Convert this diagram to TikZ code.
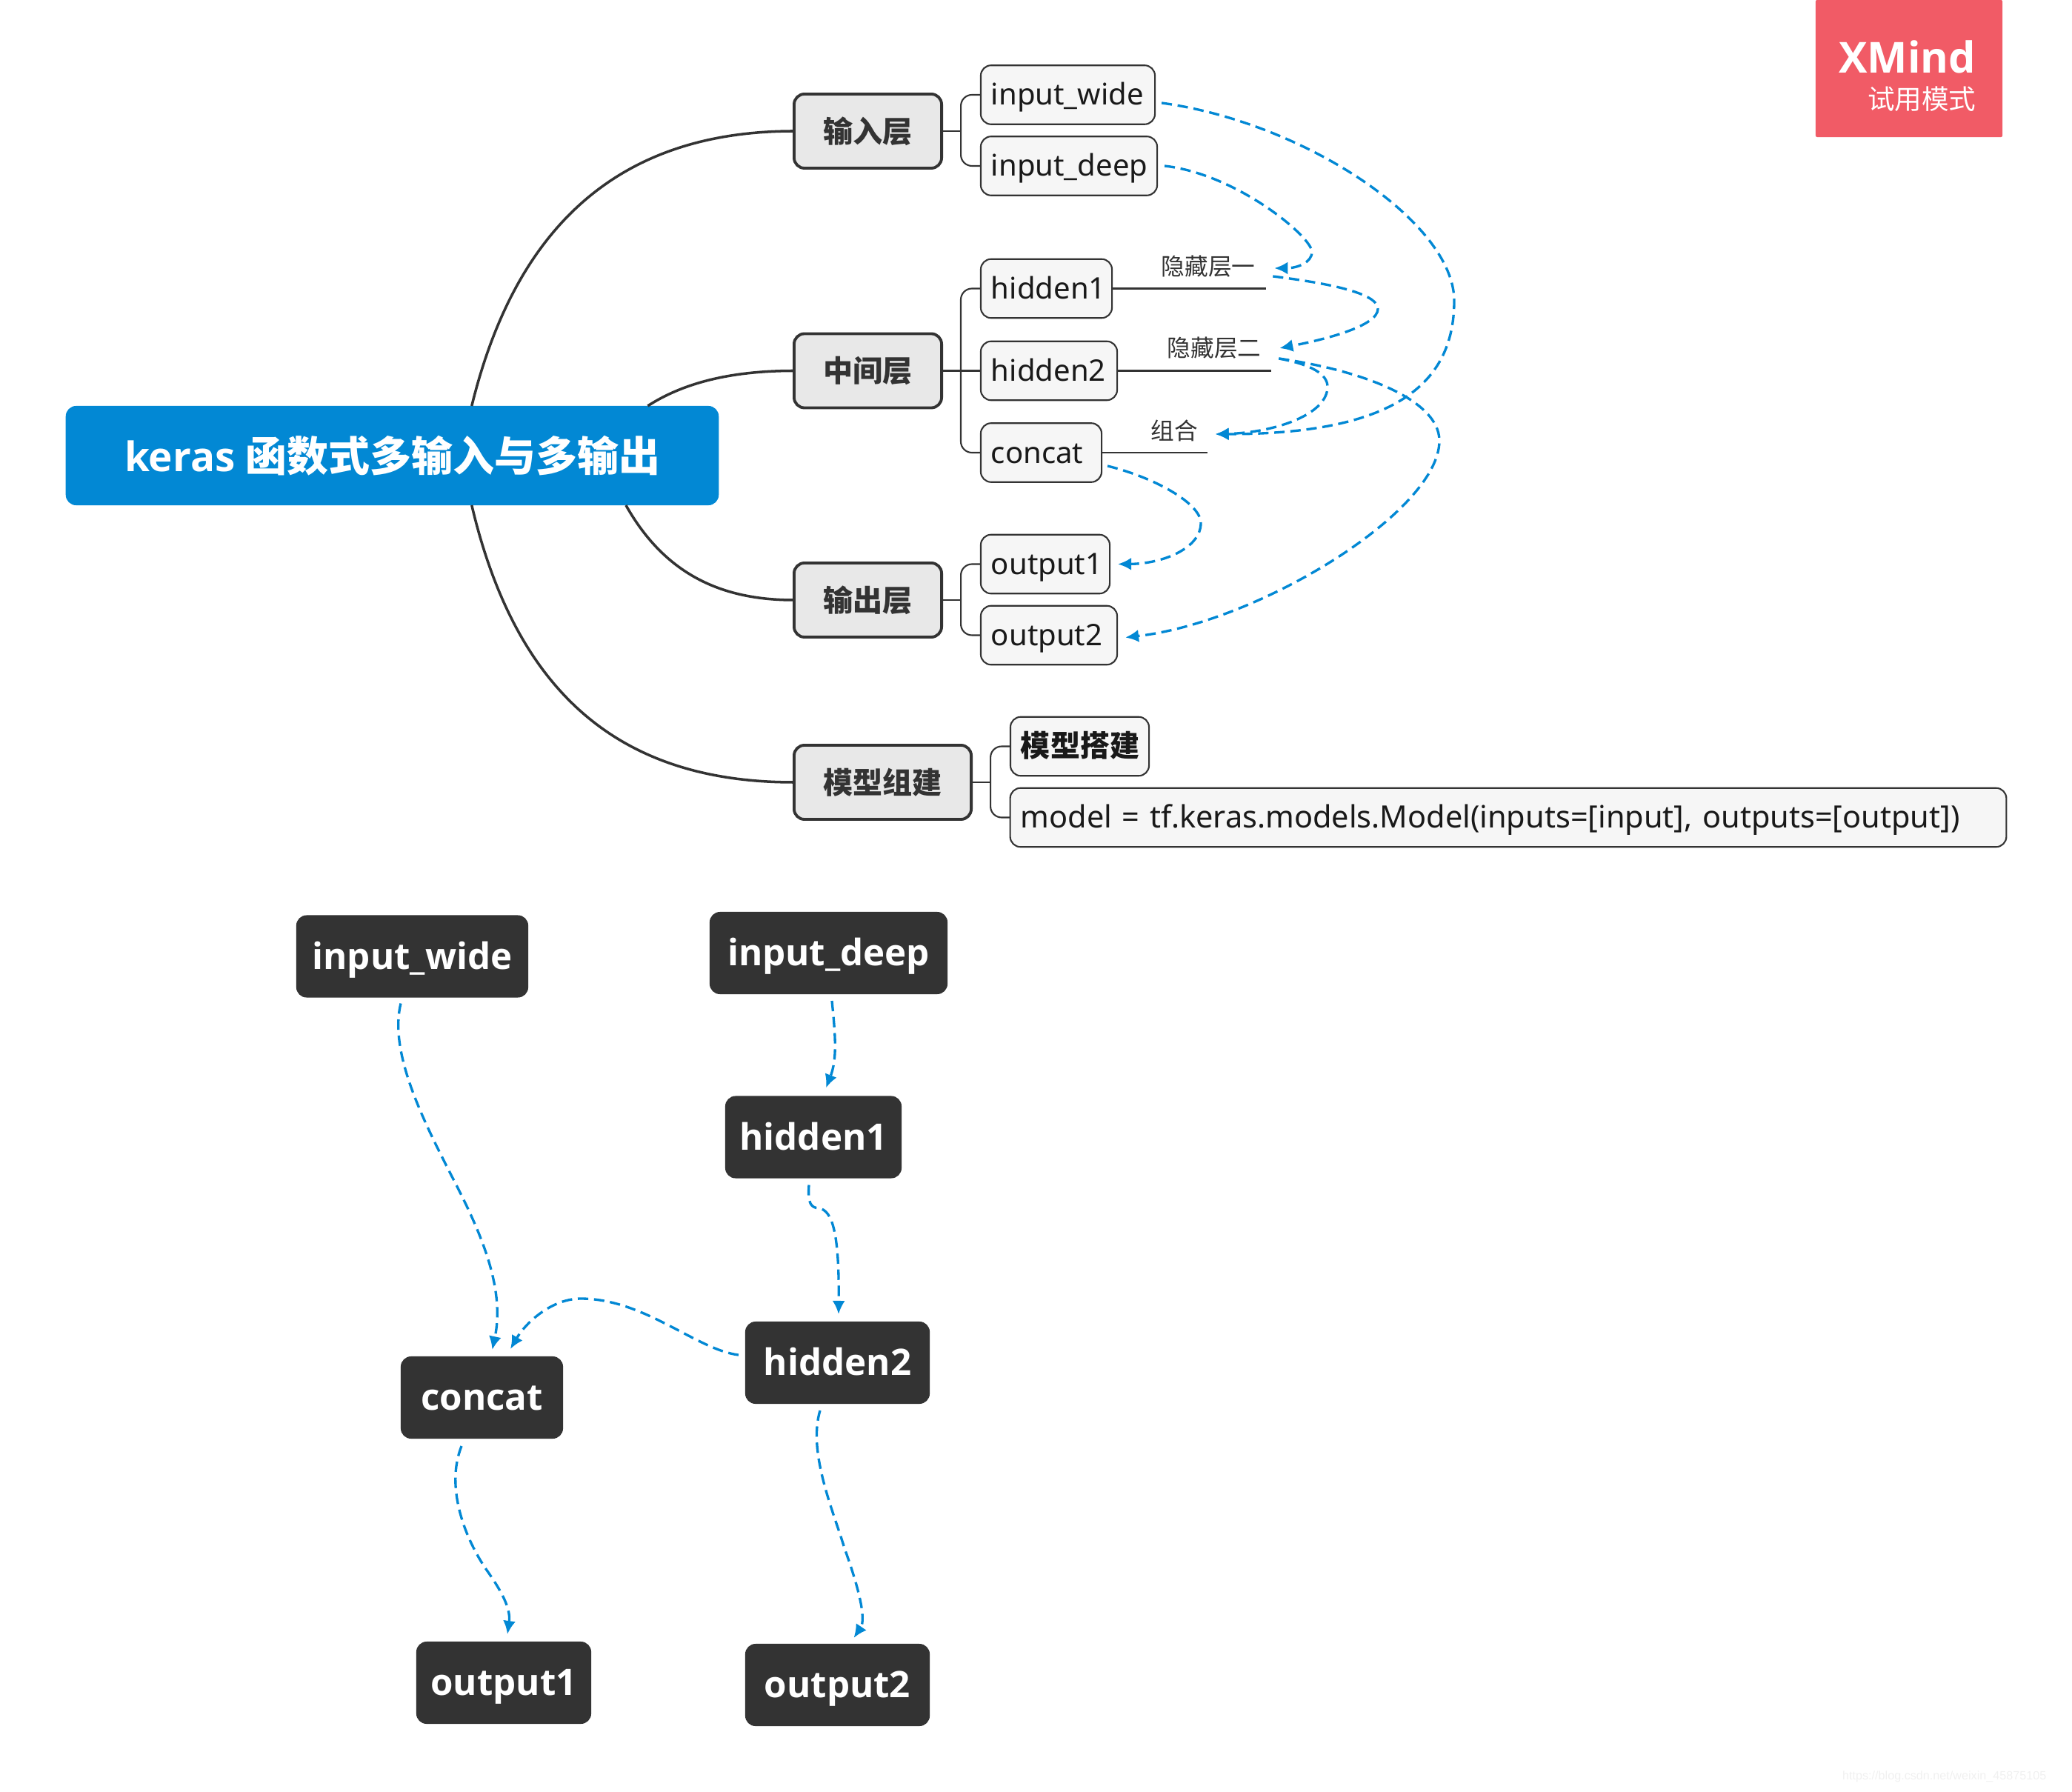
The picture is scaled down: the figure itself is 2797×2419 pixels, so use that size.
\documentclass[tikz,border=0pt]{standalone}
\usepackage{fontspec}
\setmainfont{Noto Sans}
\newfontfamily\cjk{Noto Sans CJK SC}
\newfontfamily\urlfont{Liberation Sans}
\newfontfamily\heavyfont{Open Sans}
\usetikzlibrary{arrows.meta}
\usetikzlibrary{calc}
\definecolor{color-blue}{RGB}{2,136,212}
\definecolor{color-ink}{RGB}{51,51,51}
\definecolor{color-topic}{RGB}{232,232,232}
\definecolor{color-leaf}{RGB}{246,246,246}
\definecolor{color-trial}{RGB}{241,91,102}

\begin{document}
\begin{tikzpicture}[x=0.01cm, y=-0.01cm, >={Latex[length=0.18cm,width=0.17cm]},
root/.style={rectangle,rounded corners=0.14cm,fill=color-blue,text=white,inner sep=0,outer sep=0,minimum width=8.81cm,minimum height=1.34cm,font=\fontsize{15.6}{18}\selectfont},
topic/.style={rectangle,rounded corners=0.14cm,draw=color-ink,line width=1.1pt,fill=color-topic,text=color-ink,inner sep=0,outer sep=0,minimum height=1cm,font=\cjk\bfseries\fontsize{11.4}{14}\selectfont},
leaf/.style={rectangle,rounded corners=0.14cm,draw=color-ink,line width=0.6pt,fill=color-leaf,text=black!90,inner ysep=0,inner xsep=0.14cm,outer sep=0,minimum height=0.795cm,align=left,text height=0.38cm,text depth=0.1cm,font=\fontsize{11.4}{14}\selectfont},
block/.style={rectangle,rounded corners=0.14cm,fill=color-ink,text=white,inner sep=0,outer sep=0,minimum height=1.11cm,text height=0.44cm,text depth=0.1cm,font=\heavyfont\bfseries\fontsize{14}{17}\selectfont},
tag/.style={inner sep=0,outer sep=0,text=color-ink,font=\cjk\fontsize{9}{11}\selectfont},
branch/.style={draw=color-ink,line width=1pt},
twig/.style={draw=color-ink,line width=0.6pt,rounded corners=0.15cm},
link/.style={draw=color-blue,line width=0.95pt,dash pattern=on 4pt off 2.2pt,->}]

\useasboundingbox (0,0) rectangle (2797,2419);

% trial mark
\node [rectangle,rounded corners=0.02cm,fill=color-trial,inner sep=0,minimum width=2.52cm,minimum height=1.85cm](trial) at (2577,92.5) {};
\node [inner sep=0,text=white,anchor=east,font=\heavyfont\bfseries\fontsize{16.4}{18}\selectfont](trialname) at (2668,77) {XMind};
\node [inner sep=0,text=white,anchor=east,font=\cjk\fontsize{10.4}{12}\selectfont](trialmode) at (2668,134) {试用模式};

% central topic
\node [root](main) at (529.5,615) {\heavyfont\bfseries keras {\cjk\bfseries\fontsize{15.9}{18}\selectfont 函数式多输入与多输出}};

% main topics
\node [topic,minimum width=1.99cm](intopic) at (1171.5,177) {输入层};
\node [topic,minimum width=1.99cm](midtopic) at (1171.5,500.5) {中间层};
\node [topic,minimum width=1.99cm](outtopic) at (1171.5,810) {输出层};
\node [topic,minimum width=2.39cm](buildtopic) at (1191.5,1056) {模型组建};

% leaves
\node [leaf,text width=2.07cm](inwide) at (1441.5,128) {input\_wide};
\node [leaf,text width=2.10cm](indeep) at (1443,224) {input\_deep};
\node [leaf,text width=1.49cm](hidone) at (1412.5,389.5) {hidden1};
\node [leaf,text width=1.56cm](hidtwo) at (1416,500.5) {hidden2};
\node [leaf,text width=1.35cm](concat) at (1405.5,611) {concat};
\node [leaf,text width=1.46cm](outone) at (1411,761.5) {output1};
\node [leaf,text width=1.56cm](outtwo) at (1416,857.5) {output2};
\node [leaf,text width=1.59cm,font=\cjk\bfseries\fontsize{11.4}{14}\selectfont](buildname) at (1457.5,1007.5) {模型搭建};
\node [leaf,text width=13.16cm,font=\fontsize{11.8}{14}\selectfont](buildcode) at (2036,1103.5) {model = tf.keras.models.Model(inputs=[input], outputs=[output])};

% tags over the lines
\node [tag](hidonetag) at (1631,360) {隐藏层一};
\node [tag](hidtwotag) at (1639,470) {隐藏层二};
\node [tag](concattag) at (1585,581) {组合};
\coordinate (hidoneend) at (1709,389.5);
\coordinate (hidtwoend) at (1716,500.5);
\coordinate (concatend) at (1630,611);
\draw[twig] (hidone.east) -- (hidoneend);
\draw[twig] (hidtwo.east) -- (hidtwoend);
\draw[twig] (concat.east) -- (concatend);

% curves from the centre
\draw[branch] (main.32) .. controls (700,290) and (850,177) .. (intopic.west);
\draw[branch] (main.11) .. controls (930,512) and (1000,500.5) .. (midtopic.west);
\draw[branch] (main.-12) .. controls (900,780) and (980,810) .. (outtopic.west);
\draw[branch] (main.-32) .. controls (700,950) and (850,1056) .. (buildtopic.west);

% brackets
\draw[twig] (intopic.east) -- ++(26,0) coordinate (injoin);
\draw[twig] (injoin) |- (inwide.west);
\draw[twig] (injoin) |- (indeep.west);
\draw[twig] (midtopic.east) -- (hidtwo.west);
\coordinate (midjoin) at (1297,500.5);
\draw[twig] (midjoin) |- (hidone.west);
\draw[twig] (midjoin) |- (concat.west);
\draw[twig] (outtopic.east) -- ++(26,0) coordinate (outjoin);
\draw[twig] (outjoin) |- (outone.west);
\draw[twig] (outjoin) |- (outtwo.west);
\draw[twig] (buildtopic.east) -- ++(26,0) coordinate (buildjoin);
\draw[twig] (buildjoin) |- (buildname.west);
\draw[twig] (buildjoin) |- (buildcode.west);

% dashed links, upper part
\draw[link] ([shift={(9,11)}]inwide.east) .. controls (1760,165) and (1963,300) .. (1963,406) .. controls (1963,520) and (1880,586) .. ([shift={(24,5)}]concattag.east);
\draw[link] ([shift={(10,0)}]indeep.east) .. controls (1670,235) and (1771,320) .. (1771,340) .. controls (1771,355) and (1750,362) .. ([shift={(26,2)}]hidonetag.east);
\draw[link] ([shift={(24,13)}]hidonetag.east) .. controls (1790,382) and (1860,395) .. (1860,417) .. controls (1860,440) and (1790,458) .. ([shift={(25,0)}]hidtwotag.east);
\draw[link] ([shift={(24,14)}]hidtwotag.east) .. controls (1770,492) and (1792,505) .. (1792,522) .. controls (1792,560) and (1720,584) .. ([shift={(24,5)}]concattag.east);
\draw[link] ([shift={(24,14)}]hidtwotag.east) .. controls (1840,500) and (1943,540) .. (1943,595) .. controls (1943,690) and (1700,840) .. ([shift={(11,3)}]outtwo.east);
\draw[link] ([shift={(8,18)}]concat.east) .. controls (1560,645) and (1621,680) .. (1621,706) .. controls (1621,740) and (1570,761) .. ([shift={(11,0)}]outone.east);

% lower graph
\node [block,minimum width=3.13cm](binwide) at (556.5,1291) {input\_wide};
\node [block,minimum width=3.21cm](bindeep) at (1118.5,1286.5) {input\_deep};
\node [block,minimum width=2.38cm](bhidone) at (1098,1535) {hidden1};
\node [block,minimum width=2.49cm](bhidtwo) at (1130.5,1839.5) {hidden2};
\node [block,minimum width=2.19cm](bconcat) at (650.5,1886.5) {concat};
\node [block,minimum width=2.36cm](boutone) at (680,2271.5) {output1};
\node [block,minimum width=2.49cm](bouttwo) at (1130.5,2274.5) {output2};

% dashed links, lower part
\draw[link] ([shift={(-15.5,8)}]binwide.south) .. controls (525,1420) and (570,1510) .. (611,1590) .. controls (650,1665) and (682,1740) .. ([shift={(14,-9)}]bconcat.north);
\draw[link] ([shift={(4.5,9)}]bindeep.south) .. controls (1128,1400) and (1130,1430) .. ([shift={(17,-11)}]bhidone.north);
\draw[link] ([shift={(-6,9)}]bhidone.south) .. controls (1090,1625) and (1095,1630) .. (1105,1631) .. controls (1125,1633) and (1133,1670) .. ([shift={(1.5,-10)}]bhidtwo.north);
\draw[link] ([shift={(-9,-10.5)}]bhidtwo.west) .. controls (940,1822) and (870,1753) .. (784,1753) .. controls (745,1753) and (710,1785) .. ([shift={(38.5,-10)}]bconcat.north);
\draw[link] ([shift={(-27.5,10)}]bconcat.south) .. controls (600,2010) and (630,2080) .. (656,2118) .. controls (675,2145) and (690,2170) .. ([shift={(5,-10)}]boutone.north);
\draw[link] ([shift={(-23.5,9)}]bhidtwo.south) .. controls (1090,1960) and (1125,2040) .. (1140,2090) .. controls (1158,2140) and (1170,2185) .. ([shift={(22,-8)}]bouttwo.north);

% watermark
\node [inner sep=0,anchor=east,text=black!6,font=\urlfont\fontsize{4.6}{6}\selectfont](credit) at (2763,2398) {https://blog.csdn.net/weixin\_45875105};

\end{tikzpicture}
\end{document}
